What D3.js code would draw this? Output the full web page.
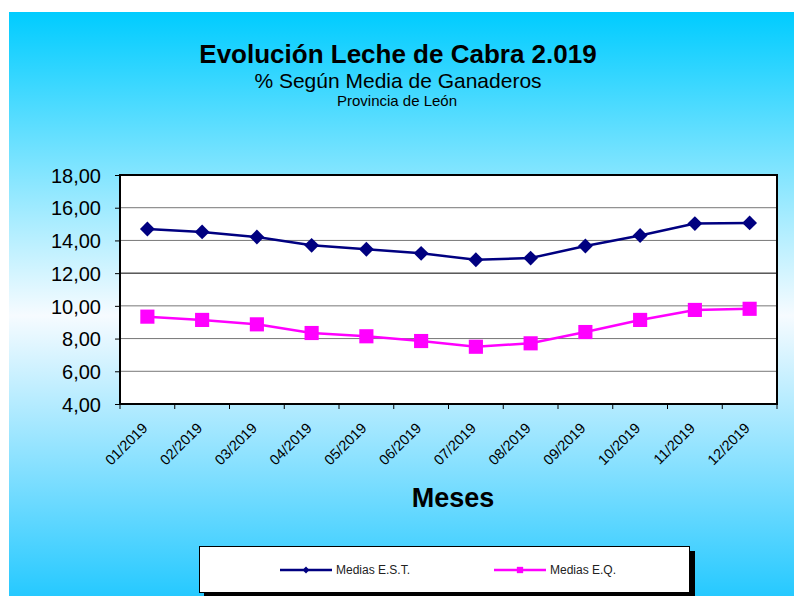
<!DOCTYPE html>
<html>
<head>
<meta charset="utf-8">
<script src="https://cdn.jsdelivr.net/npm/d3@7"></script>
<style>
  body { margin: 0; background: #fff; }
  svg { display: block; font-family: "Liberation Sans", Arial, sans-serif; }
</style>
</head>
<body>
<svg id="chart"></svg>
<script>
const months = ["01/2019","02/2019","03/2019","04/2019","05/2019","06/2019",
                "07/2019","08/2019","09/2019","10/2019","11/2019","12/2019"];
const mediasEST = [14.70, 14.52, 14.21, 13.70, 13.46, 13.21, 12.82, 12.92, 13.66, 14.30, 15.03, 15.07];
const mediasEQ  = [9.34, 9.14, 8.87, 8.34, 8.14, 7.85, 7.50, 7.71, 8.40, 9.14, 9.75, 9.82];
const yTicks = [4, 6, 8, 10, 12, 14, 16, 18];

const W = 794, H = 596;
const plot = {left: 120, top: 175, right: 777, bottom: 404};
const svg = d3.select("#chart").attr("width", W).attr("height", H);

// background gradient
const defs = svg.append("defs");
const grad = defs.append("linearGradient").attr("id", "bg")
  .attr("x1", 0).attr("y1", 0).attr("x2", 0).attr("y2", 1);
grad.append("stop").attr("offset", "0%").attr("stop-color", "#00ccff");
grad.append("stop").attr("offset", "52%").attr("stop-color", "#f6fbff");
grad.append("stop").attr("offset", "100%").attr("stop-color", "#26c9ff");
svg.append("rect").attr("x", 9).attr("y", 12).attr("width", W - 9).attr("height", H - 12)
  .attr("fill", "url(#bg)");

// titles
svg.append("text").attr("x", 398).attr("y", 63).attr("text-anchor", "middle")
  .style("font-size", "26px").style("font-weight", "bold").text("Evolución Leche de Cabra 2.019");
svg.append("text").attr("x", 398).attr("y", 88).attr("text-anchor", "middle")
  .style("font-size", "21px").text("% Según Media de Ganaderos");
svg.append("text").attr("x", 397).attr("y", 106).attr("text-anchor", "middle")
  .style("font-size", "15px").text("Provincia de León");

const x = d3.scaleBand().domain(months).range([plot.left, plot.right]);
const y = d3.scaleLinear().domain([4, 18]).range([plot.bottom, plot.top]);

// plot area
svg.append("rect").attr("x", plot.left).attr("y", plot.top)
  .attr("width", plot.right - plot.left).attr("height", plot.bottom - plot.top)
  .attr("fill", "#fff");

// gridlines
svg.append("g").selectAll("line").data(yTicks.filter(d => d > 4 && d < 18)).join("line")
  .attr("x1", plot.left).attr("x2", plot.right)
  .attr("y1", d => y(d)).attr("y2", d => y(d))
  .attr("stroke", d => d === 12 ? "#000" : "#777").attr("stroke-width", 1);

// border
svg.append("rect").attr("x", plot.left).attr("y", plot.top)
  .attr("width", plot.right - plot.left).attr("height", plot.bottom - plot.top)
  .attr("fill", "none").attr("stroke", "#000").attr("stroke-width", 2);

// y axis
const yAxis = svg.append("g").attr("transform", `translate(${plot.left},0)`)
  .call(d3.axisLeft(y).tickValues(yTicks).tickSize(5).tickSizeOuter(0)
    .tickFormat(d => d3.format(".2f")(d).replace(".", ",")));
yAxis.select(".domain").remove();
yAxis.selectAll("line").attr("stroke", "#000");
yAxis.selectAll("text").style("font-size", "20px").attr("fill", "#000").attr("x", -19).attr("dy", "0.36em");

// x axis ticks at category boundaries
const xb = svg.append("g");
xb.selectAll("line").data(d3.range(months.length + 1)).join("line")
  .attr("x1", i => plot.left + i * x.step()).attr("x2", i => plot.left + i * x.step())
  .attr("y1", plot.bottom).attr("y2", plot.bottom + 5).attr("stroke", "#000");
xb.selectAll("text").data(months).join("text")
  .attr("transform", d => `translate(${x(d) + x.bandwidth() / 2 + 1},${plot.bottom + 25}) rotate(-45)`)
  .attr("text-anchor", "end").style("font-size", "14.5px").text(d => d);

svg.append("text").attr("x", 453).attr("y", 507).attr("text-anchor", "middle")
  .style("font-size", "27px").style("font-weight", "bold").text("Meses");

// series
const cx = d => x(d) + x.bandwidth() / 2;
const line = d3.line().x(d => cx(d.m)).y(d => y(d.v));
const series = [
  {name: "Medias E.S.T.", values: mediasEST, color: "#000080", shape: d3.symbolDiamond2, size: 140},
  {name: "Medias E.Q.",   values: mediasEQ,  color: "#ff00ff", shape: d3.symbolSquare,  size: 200}
];
series.forEach(s => {
  const pts = months.map((m, i) => ({m, v: s.values[i]}));
  svg.append("path").datum(pts).attr("d", line).attr("fill", "none")
    .attr("stroke", s.color).attr("stroke-width", 2.5);
  svg.append("g").selectAll("path").data(pts).join("path")
    .attr("transform", d => `translate(${cx(d.m)},${y(d.v)})`)
    .attr("d", d3.symbol().type(s.shape).size(s.size)).attr("fill", s.color);
});

// legend
svg.append("rect").attr("x", 204).attr("y", 551).attr("width", 491).attr("height", 48).attr("fill", "#000");
svg.append("rect").attr("x", 199.5).attr("y", 546.5).attr("width", 490).attr("height", 46)
  .attr("fill", "#fff").attr("stroke", "#000").attr("stroke-width", 1);
const legX = [280, 494];
series.forEach((s, i) => {
  const g = svg.append("g").attr("transform", `translate(${legX[i]},570)`);
  g.append("line").attr("x1", 0).attr("x2", 52).attr("stroke", s.color).attr("stroke-width", 2.5);
  g.append("path").attr("transform", "translate(26,0)")
    .attr("d", d3.symbol().type(s.shape).size(i === 0 ? 30 : 40)).attr("fill", s.color);
  g.append("text").attr("x", 56).attr("y", 4).style("font-size", "12px").attr("fill", "#222").text(s.name);
});
</script>
</body>
</html>
